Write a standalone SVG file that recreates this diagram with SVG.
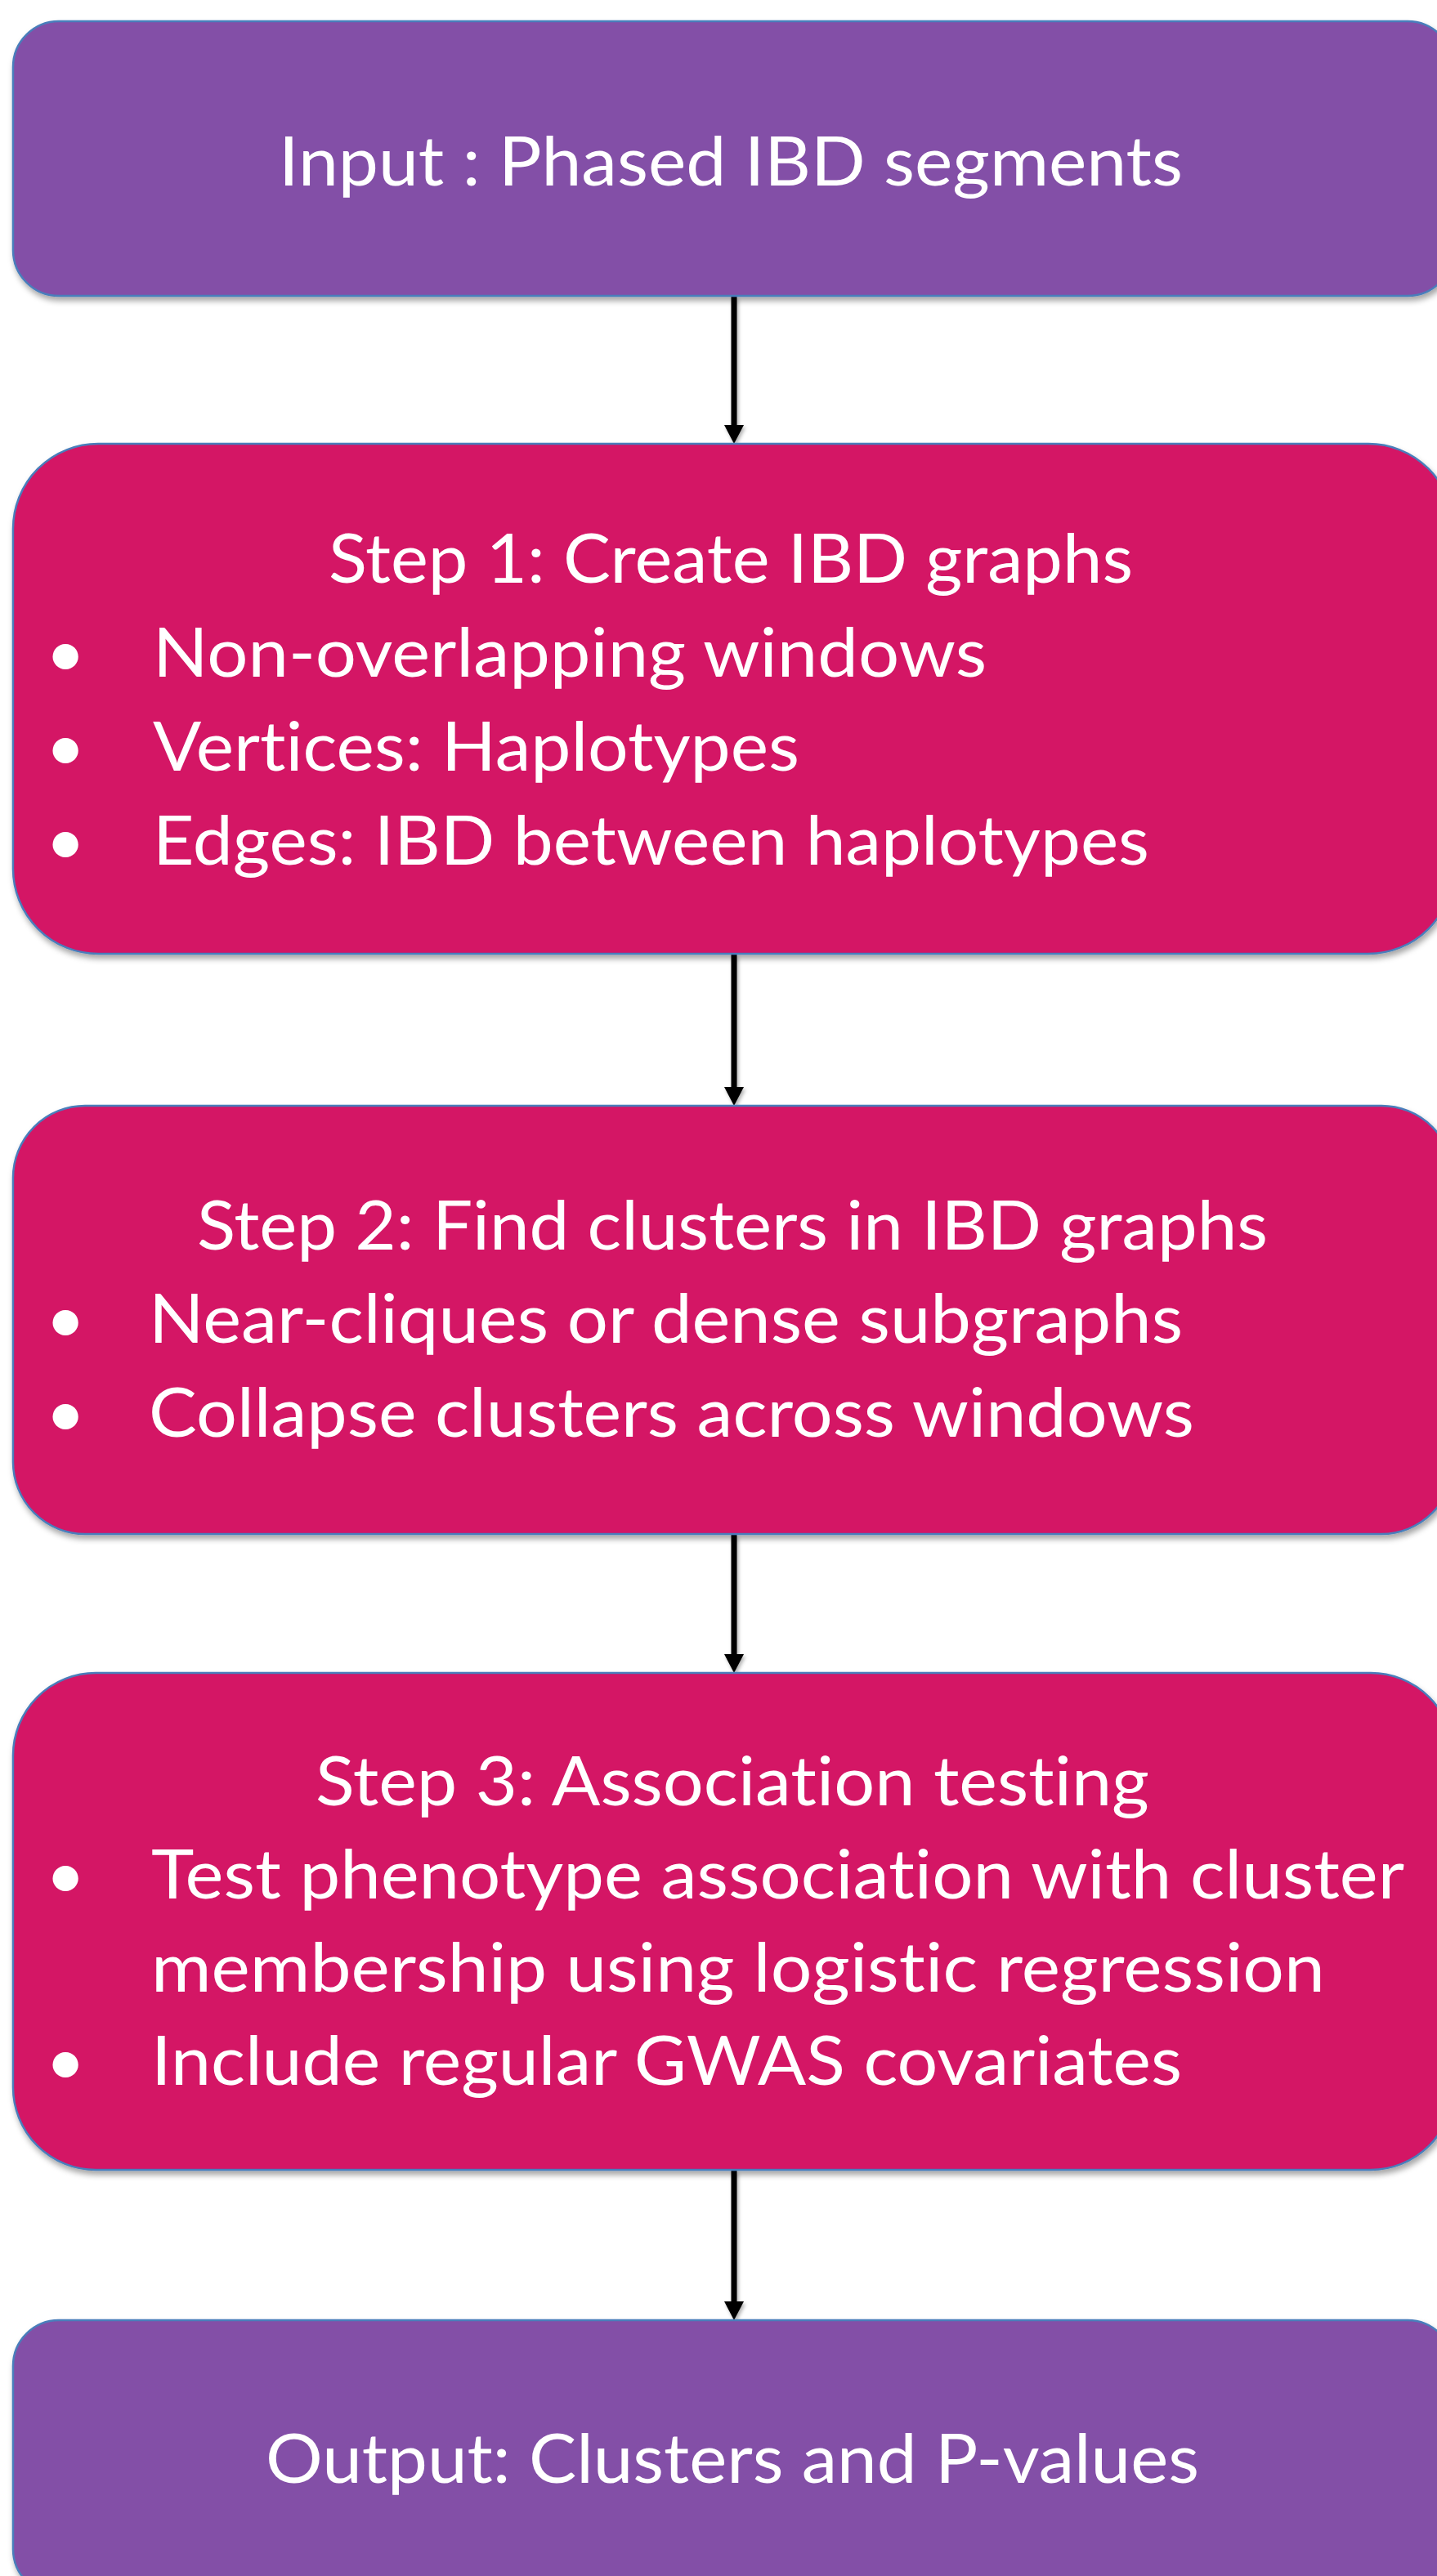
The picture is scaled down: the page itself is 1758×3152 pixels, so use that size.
<svg xmlns="http://www.w3.org/2000/svg" width="1758" height="3152" viewBox="0 0 1758 3152">
  <defs>
    <filter id="shadow" x="-5%" y="-5%" width="110%" height="115%">
      <feDropShadow dx="2" dy="5" stdDeviation="3.5" flood-color="#000" flood-opacity="0.35"/>
    </filter>
    <filter id="lineShadow" filterUnits="userSpaceOnUse" x="0" y="0" width="1758" height="3152">
      <feDropShadow dx="2" dy="3" stdDeviation="2" flood-color="#000" flood-opacity="0.3"/>
    </filter>
  </defs>
  <style>
    .box { stroke: #4a7ebb; stroke-width: 2.5; filter: url(#shadow); }
    .io { fill: #834FA7; }
    .step { fill: #D41265; }
    .t { font-family: "Lato", "Open Sans", "Liberation Sans", sans-serif; font-size: 84px; fill: #ffffff; font-variant-ligatures: none; }
    .c { text-anchor: middle; }
    .conn { filter: url(#lineShadow); }
    .conn line { stroke: #000; stroke-width: 7; fill: none; }
    .conn path { fill: #000; }
  </style>

  <rect width="1758" height="3152" fill="#ffffff"/>

  <!-- connectors: shaft plus triangular head touching the next box -->
  <g id="connectors" class="conn">
    <line x1="898" y1="363" x2="898" y2="522"/>
    <path d="M886,520 L910,520 L898,543 Z"/>
    <line x1="898" y1="1168" x2="898" y2="1332"/>
    <path d="M886,1330 L910,1330 L898,1353 Z"/>
    <line x1="898" y1="1878" x2="898" y2="2026"/>
    <path d="M886,2024 L910,2024 L898,2047 Z"/>
    <line x1="898" y1="2656" x2="898" y2="2818"/>
    <path d="M886,2816 L910,2816 L898,2839 Z"/>
  </g>

  <!-- input -->
  <g id="input">
    <rect class="box io" x="16" y="26" width="1762" height="336" rx="56" ry="56"/>
    <text class="t c" x="894" y="227" textLength="1106" lengthAdjust="spacingAndGlyphs">Input : Phased IBD segments</text>
  </g>

  <!-- step 1 -->
  <g id="step1">
    <rect class="box step" x="16" y="543" width="1762" height="624" rx="104" ry="104"/>
    <text class="t c" x="894" y="713" textLength="984" lengthAdjust="spacingAndGlyphs">Step 1: Create IBD graphs</text>
    <text class="t c" x="80" y="828">•</text>
    <text class="t" x="187" y="828" textLength="1020" lengthAdjust="spacingAndGlyphs">Non-overlapping windows</text>
    <text class="t c" x="80" y="943">•</text>
    <text class="t" x="187" y="943" textLength="791" lengthAdjust="spacingAndGlyphs">Vertices: Haplotypes</text>
    <text class="t c" x="80" y="1058">•</text>
    <text class="t" x="187" y="1058" textLength="1219" lengthAdjust="spacingAndGlyphs">Edges: IBD between haplotypes</text>
  </g>

  <!-- step 2 -->
  <g id="step2">
    <rect class="box step" x="16" y="1353" width="1762" height="524" rx="88" ry="88"/>
    <text class="t c" x="896" y="1529" textLength="1310" lengthAdjust="spacingAndGlyphs">Step 2: Find clusters in IBD graphs</text>
    <text class="t c" x="80" y="1643">•</text>
    <text class="t" x="182" y="1643" textLength="1265" lengthAdjust="spacingAndGlyphs">Near-cliques or dense subgraphs</text>
    <text class="t c" x="80" y="1758">•</text>
    <text class="t" x="182" y="1758" textLength="1279" lengthAdjust="spacingAndGlyphs">Collapse clusters across windows</text>
  </g>

  <!-- step 3 -->
  <g id="step3">
    <rect class="box step" x="16" y="2047" width="1762" height="608" rx="101" ry="101"/>
    <text class="t c" x="896" y="2209" textLength="1020" lengthAdjust="spacingAndGlyphs">Step 3: Association testing</text>
    <text class="t c" x="80" y="2323">•</text>
    <text class="t" x="185" y="2323" textLength="1533" lengthAdjust="spacingAndGlyphs">Test phenotype association with cluster</text>
    <text class="t" x="185" y="2437" textLength="1436" lengthAdjust="spacingAndGlyphs">membership using logistic regression</text>
    <text class="t c" x="80" y="2551">•</text>
    <text class="t" x="185" y="2551" textLength="1261" lengthAdjust="spacingAndGlyphs">Include regular GWAS covariates</text>
  </g>

  <!-- output -->
  <g id="output">
    <rect class="box io" x="16" y="2839" width="1762" height="336" rx="56" ry="56"/>
    <text class="t c" x="896" y="3038" textLength="1142" lengthAdjust="spacingAndGlyphs">Output: Clusters and P-values</text>
  </g>
</svg>
